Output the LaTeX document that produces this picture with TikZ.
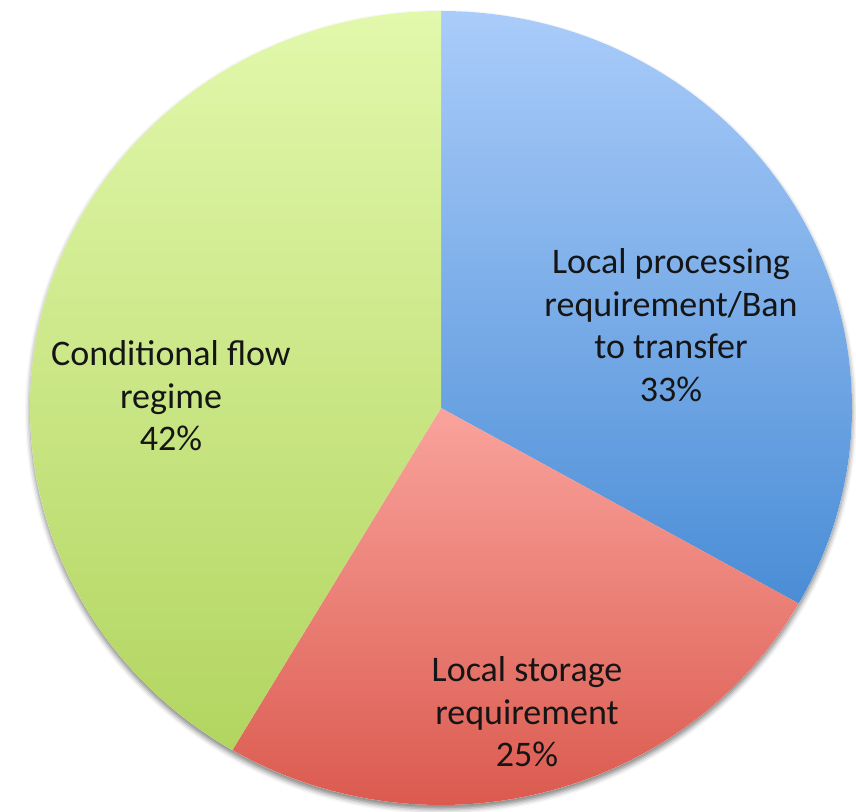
\documentclass[tikz,border=0pt]{standalone}
\usepackage{fontspec}
\setmainfont{Carlito}
\usetikzlibrary{shadows.blur}
\definecolor{bluetop}{HTML}{AACCFA}
\definecolor{bluebot}{HTML}{4A8DD6}
\definecolor{redtop}{HTML}{F9A39C}
\definecolor{redbot}{HTML}{DB5A4F}
\definecolor{greentop}{HTML}{E2F8AC}
\definecolor{greenbot}{HTML}{B2D560}
\definecolor{labeltext}{HTML}{151515}
\tikzset{
  lbl/.style={align=center, text=labeltext, font=\fontsize{36}{42.5}\selectfont, inner sep=0pt},
}
\begin{document}
\begin{tikzpicture}[x=1pt,y=1pt]
\useasboundingbox (0,0) rectangle (856,811);
\coordinate (C) at (441,403);
% soft shadow
\fill[white, blur shadow={shadow xshift=0pt, shadow yshift=-4pt, shadow blur radius=5pt, shadow opacity=50}]
  (C) ellipse[x radius=411, y radius=397];
% blue slice
\shade[top color=bluetop, bottom color=bluebot]
  (C) -- ++(90:397) arc[start angle=90, end angle=-29.5, x radius=411, y radius=397] -- cycle;
% red slice
\shade[top color=redtop, bottom color=redbot]
  (C) -- ($(C)+(-29.5:411 and 397)$) arc[start angle=-29.5, end angle=-120.5, x radius=411, y radius=397] -- cycle;
% green slice
\shade[top color=greentop, bottom color=greenbot]
  (C) -- ($(C)+(-120.5:411 and 397)$) arc[start angle=-120.5, end angle=-270, x radius=411, y radius=397] -- cycle;
% labels
\node[lbl] (blue) at (671,486) {Local processing\\requirement/Ban\\to transfer\\33\%};
\node[lbl] (green) at (171,415) {Conditional flow\\regime\\42\%};
\node[lbl] (red) at (527,99) {Local storage\\requirement\\25\%};
\end{tikzpicture}
\end{document}
